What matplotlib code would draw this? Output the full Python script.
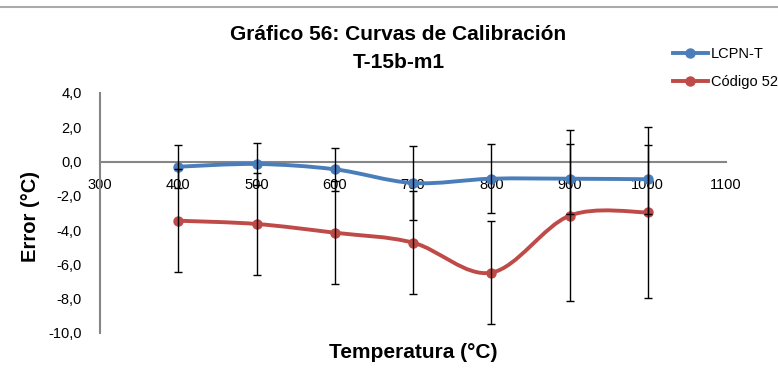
import matplotlib.pyplot as plt
import numpy as np
from matplotlib.path import Path
from matplotlib.patches import PathPatch
from matplotlib.lines import Line2D
from matplotlib.ticker import FuncFormatter, MultipleLocator

# data
temperatura = [400, 500, 600, 700, 800, 900, 1000]
lcpn_t = [-0.30, -0.14, -0.45, -1.25, -1.00, -1.00, -1.03]
lcpn_t_err = [1.27, 1.24, 1.26, 2.15, 2.00, 2.04, 2.00]
codigo_52 = [-3.45, -3.64, -4.15, -4.73, -6.48, -3.16, -2.96]
codigo_52_err = [3.0, 3.0, 3.0, 3.0, 3.0, 5.0, 5.0]

series_names = ["LCPN-T", "Código 52"]
colors = ["#4A7EBB", "#BE4B48"]

plt.rcParams["font.family"] = ["Liberation Sans", "DejaVu Sans"]

W, H = 778, 376
fig = plt.figure(figsize=(W / 100, H / 100), dpi=100)
# plot area in pixels: x 100..726, y 93..333
ax = fig.add_axes([100 / W, 1 - 333 / H, 626 / W, 240 / H])


def smooth_path(xs, ys):
    # Excel-like smoothed line: Catmull-Rom converted to cubic Bezier
    pts = np.column_stack([xs, ys]).astype(float)
    n = len(pts)
    verts = [pts[0]]
    codes = [Path.MOVETO]
    for i in range(n - 1):
        p0 = pts[i - 1] if i > 0 else pts[i]
        p1 = pts[i]
        p2 = pts[i + 1]
        p3 = pts[i + 2] if i + 2 < n else pts[i + 1]
        c1 = p1 + (p2 - p0) / 6
        c2 = p2 - (p3 - p1) / 6
        verts += [c1, c2, p2]
        codes += [Path.CURVE4] * 3
    return Path(verts, codes)


for ys, c in zip([lcpn_t, codigo_52], colors):
    ax.add_patch(PathPatch(smooth_path(temperatura, ys), fill=False,
                           edgecolor=c, lw=2.8, zorder=3, capstyle="round"))
    ax.plot(temperatura, ys, "o", color=c, ms=6.5, zorder=4)

for ys, err in zip([lcpn_t, codigo_52], [lcpn_t_err, codigo_52_err]):
    ax.errorbar(temperatura, ys, yerr=err, fmt="none", ecolor="black",
                elinewidth=1.0, capsize=3, capthick=1.0, zorder=5)

ax.set_xlim(300, 1100)
ax.set_ylim(-10, 4)
ax.xaxis.set_major_locator(MultipleLocator(100))
ax.yaxis.set_major_locator(MultipleLocator(2))
ax.yaxis.set_major_formatter(FuncFormatter(lambda v, p: f"{v:.1f}".replace(".", ",")))

for s in ["top", "right"]:
    ax.spines[s].set_visible(False)
ax.spines["bottom"].set_position(("data", 0))
ax.spines["bottom"].set_color("#868686")
ax.spines["left"].set_color("#868686")
ax.spines["bottom"].set_linewidth(1.5)
ax.spines["left"].set_linewidth(1.5)
ax.tick_params(axis="both", length=0, labelsize=10.5, colors="black")
ax.tick_params(axis="x", pad=12)
ax.tick_params(axis="y", pad=13)
ax.set_facecolor("none")

fig.text(398 / W, 1 - 35 / H, "Gráfico 56: Curvas de Calibración", ha="center",
         va="center", fontsize=15, fontweight="bold")
fig.text(399 / W, 1 - 63 / H, "T-15b-m1", ha="center", va="center",
         fontsize=15, fontweight="bold")
fig.text(413 / W, 1 - 352 / H, "Temperatura (°C)", ha="center", va="center",
         fontsize=15, fontweight="bold")
fig.text(31 / W, 1 - 217 / H, "Error (°C)", ha="center", va="center",
         rotation=90, fontsize=14.5, fontweight="bold")

# top border line
fig.add_artist(Line2D([0, 1], [1 - 7 / H, 1 - 7 / H], transform=fig.transFigure,
                      color="#AAAAAA", lw=1.5))

handles = [Line2D([], [], color=c, lw=2.8, marker="o", ms=6.5) for c in colors]
fig.legend(handles, series_names, loc="upper left",
           bbox_to_anchor=(667 / W, 1 - 41 / H), frameon=False, fontsize=10.5,
           handlelength=2.4, handletextpad=0.2, labelspacing=1.0,
           borderaxespad=0)

fig.savefig("out.png", dpi=100)
